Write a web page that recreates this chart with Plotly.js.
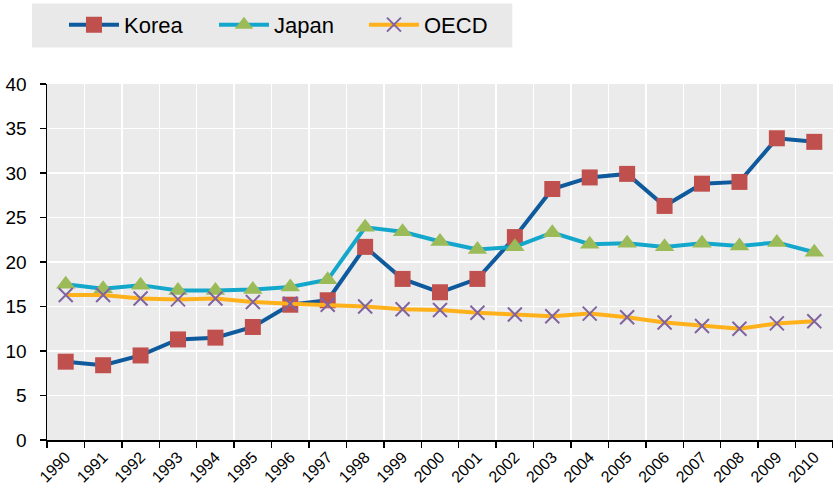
<!DOCTYPE html>
<html>
<head>
<meta charset="utf-8">
<script src="https://cdn.plot.ly/plotly-3.0.1.min.js"></script>
<style>html,body{margin:0;padding:0;background:#fff;}#chart{width:833px;height:487px;}</style>
</head>
<body>
<div id="chart"></div>
<script>
const years = ['1990','1991','1992','1993','1994','1995','1996','1997','1998','1999','2000','2001','2002','2003','2004','2005','2006','2007','2008','2009','2010'];
const korea = [8.8, 8.4, 9.5, 11.3, 11.5, 12.7, 15.2, 15.7, 21.7, 18.1, 16.6, 18.1, 22.8, 28.2, 29.5, 29.9, 26.3, 28.8, 29.0, 33.9, 33.5];
const japan = [17.5, 17.0, 17.4, 16.8, 16.8, 16.9, 17.2, 18.0, 23.9, 23.4, 22.3, 21.4, 21.7, 23.3, 22.0, 22.1, 21.7, 22.1, 21.8, 22.2, 21.1];
const oecd = [16.3, 16.3, 15.9, 15.8, 15.9, 15.5, 15.3, 15.2, 15.0, 14.7, 14.6, 14.3, 14.1, 13.9, 14.2, 13.8, 13.2, 12.8, 12.5, 13.1, 13.35];
const yTicks = [0, 5, 10, 15, 20, 25, 30, 35, 40];

const font = 'Liberation Sans, Arial, sans-serif';
const traces = [
  {x: years, y: korea, name: 'Korea', type: 'scatter', mode: 'lines+markers',
   line: {color: '#0F5A9C', width: 4},
   marker: {symbol: 'square', size: 16, color: '#C0504D', line: {width: 0}}},
  {x: years, y: japan, name: 'Japan', type: 'scatter', mode: 'lines+markers',
   line: {color: '#14A7CC', width: 4},
   marker: {symbol: 'triangle-up', size: 17, color: '#9BBB59', line: {width: 0}}},
  {x: years, y: oecd, name: 'OECD', type: 'scatter', mode: 'lines+markers',
   line: {color: '#FFB11B', width: 4},
   marker: {symbol: 'x-thin', size: 14, color: '#8064A2', line: {width: 2, color: '#8064A2'}}}
];

const layout = {
  width: 833, height: 487,
  margin: {l: 47, r: 0, t: 83.5, b: 47, pad: 0, autoexpand: false},
  paper_bgcolor: '#ffffff',
  plot_bgcolor: '#EBEBEB',
  font: {family: font, size: 17, color: '#000'},
  showlegend: true,
  legend: {orientation: 'h', xref: 'container', yref: 'container', x: 0.0768, xanchor: 'left',
           y: 0.949, yanchor: 'middle',
           bgcolor: 'rgba(0,0,0,0)', font: {family: font, size: 22, color: '#000'},
           entrywidth: 85, entrywidthmode: 'pixels', itemwidth: 50, traceorder: 'normal'},
  xaxis: {type: 'category', tickson: 'boundaries', showgrid: true, gridcolor: '#ffffff', gridwidth: 1.5,
          showline: true, linecolor: '#000', linewidth: 1.5, ticks: 'outside', ticklen: 6, tickwidth: 1.5,
          tickcolor: '#000', tickangle: -45, tickfont: {family: font, size: 16}, zeroline: false,
          range: [-0.5, 20.5], automargin: false},
  yaxis: {range: [0, 40], tickmode: 'array', tickvals: yTicks, ticktext: yTicks.map(String),
          showgrid: true, gridcolor: '#ffffff', gridwidth: 1.5, showline: true, linecolor: '#000',
          linewidth: 1.5, ticks: 'outside', ticklen: 6, tickwidth: 1.5, tickcolor: '#000',
          ticklabelstandoff: 9,
          tickfont: {family: font, size: 19}, zeroline: false, automargin: false},
  shapes: [{type: 'rect', xref: 'paper', yref: 'paper', x0: -0.0191, x1: 0.592, y0: 1.1024, y1: 1.2258,
            fillcolor: '#E9E9E9', line: {width: 0}, layer: 'below'}]
};

Plotly.newPlot('chart', traces, layout, {displayModeBar: false, staticPlot: true});
</script>
</body>
</html>
